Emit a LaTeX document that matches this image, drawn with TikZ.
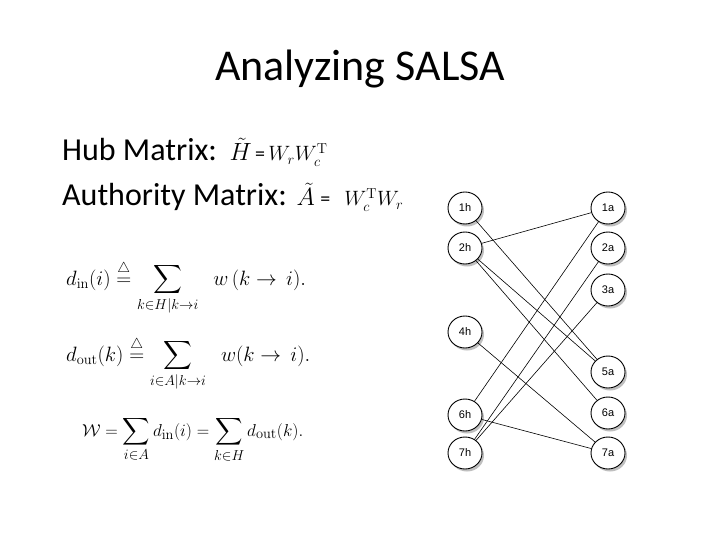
\documentclass[tikz,border=0pt]{standalone}
\usepackage{amsmath,amssymb}
\usepackage[no-math]{fontspec}
\setmainfont{Carlito}
\newfontfamily\lblfont{Liberation Sans}
\usetikzlibrary{shapes.geometric}
\tikzset{
  vtx/.style={ellipse, draw=none, minimum width=34pt, minimum height=32pt, inner sep=0pt,
    font=\lblfont\fontsize{11}{13}\selectfont},
  vborder/.style={draw=black, line width=0.9pt, fill=white},
  vshade/.style={fill=black!25, draw=none},
  conn/.style={draw=black, line width=0.6pt},
  titletext/.style={font=\fontsize{44}{52}\selectfont, inner sep=0pt},
  bodytext/.style={font=\fontsize{32}{38}\selectfont, inner sep=0pt, anchor=base west},
  formula/.style={font=\fontsize{20}{24}\selectfont, inner sep=0pt, anchor=base west}
}
\newcommand{\mathsz}{\fontsize{22}{26}\selectfont}
\newcommand{\mathbig}{\fontsize{25}{30}\selectfont}
\begin{document}
\begin{tikzpicture}[x=1pt,y=-1pt]
\useasboundingbox[fill=white] (0,0) rectangle (720,540);
\node[titletext, anchor=base] (title) at (360,81) {Analyzing SALSA};
\node[bodytext] (hub) at (62,161) {Hub Matrix: \hspace{3pt}{\mathbig$\tilde{H}$}{\fontsize{20}{24}\selectfont\,=\,}{\mathsz$W_r W_c^{\mathrm{T}}$}};
\node[bodytext] (auth) at (62,206) {Authority Matrix: {\mathbig$\tilde{A}$}{\fontsize{20}{24}\selectfont\;=\hspace{14pt}}{\mathsz$W_c^{\mathrm{T}} W_r$}};
\node[formula] (f1) at (66,285) {$\displaystyle d_{\mathrm{in}}(i) \stackrel{\triangle}{=} \sum_{k\in H|k\to i}\;\; w\,(k \to\, i).$};
\node[formula] (f2) at (66,361) {$\displaystyle d_{\mathrm{out}}(k) \stackrel{\triangle}{=} \sum_{i\in A|k\to i}\;\; w(k \to\, i).$};
\node[formula, font=\fontsize{19}{23}\selectfont] (f3) at (82,436) {$\displaystyle \mathcal{W} = \sum_{i\in A} d_{\mathrm{in}}(i) = \sum_{k\in H} d_{\mathrm{out}}(k).$};
% graph: shadows and ellipse bodies
\foreach \x/\y in {465/208,465/248,465/332,465/415,465/453,608/208,608/248,608/290,608/372,608/413,608/453}{
  \fill[vshade] (\x+2,\y+2.5) ellipse [x radius=17, y radius=16];
  \draw[vborder] (\x,\y) ellipse [x radius=17, y radius=16];
}
% graph nodes
\node[vtx] (h1) at (465,208) {1h};
\node[vtx] (h2) at (465,248) {2h};
\node[vtx] (h4) at (465,332) {4h};
\node[vtx] (h6) at (465,415) {6h};
\node[vtx] (h7) at (465,453) {7h};
\node[vtx] (a1) at (608,208) {1a};
\node[vtx] (a2) at (608,248) {2a};
\node[vtx] (a3) at (608,290) {3a};
\node[vtx] (a5) at (608,372) {5a};
\node[vtx] (a6) at (608,413) {6a};
\node[vtx] (a7) at (608,453) {7a};
\draw[conn] (h1) -- (a5);
\draw[conn] (h2) -- (a1);
\draw[conn] (h2) -- (a5);
\draw[conn] (h2) -- (a6);
\draw[conn] (h4) -- (a7);
\draw[conn] (h6) -- (a1);
\draw[conn] (h6) -- (a7);
\draw[conn] (h7) -- (a2);
\draw[conn] (h7) -- (a3);
\end{tikzpicture}
\end{document}
